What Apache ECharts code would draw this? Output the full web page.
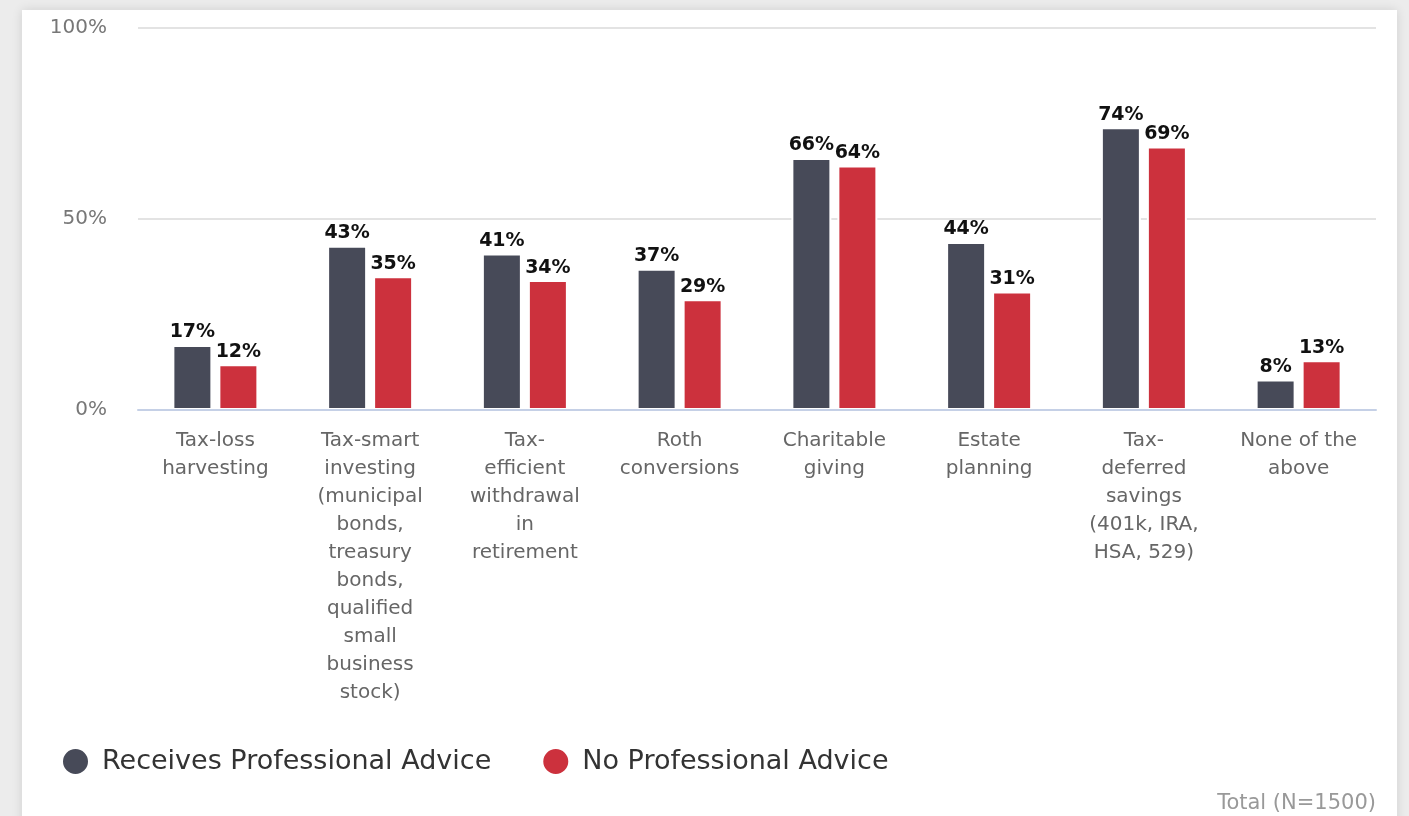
<!DOCTYPE html>
<html>
<head>
<meta charset="utf-8">
<script src="https://cdn.jsdelivr.net/npm/echarts@6/dist/echarts.min.js"></script>
<style>
  html, body { margin: 0; padding: 0; background: #ececec; width: 1409px; height: 816px; overflow: hidden; }
  #card { position: absolute; left: 22px; top: 10px; width: 1375px; height: 820px; background: #fff;
          box-shadow: 0 0 10px rgba(0,0,0,0.12); }
  #chart { width: 1375px; height: 806px; }
</style>
</head>
<body>
<div id="card"><div id="chart"></div></div>
<script>
// Tax strategies used, by whether the respondent receives professional advice
const categories = [
  "Tax-loss\nharvesting",
  "Tax-smart\ninvesting\n(municipal\nbonds,\ntreasury\nbonds,\nqualified\nsmall\nbusiness\nstock)",
  "Tax-\nefficient\nwithdrawal\nin\nretirement",
  "Roth\nconversions",
  "Charitable\ngiving",
  "Estate\nplanning",
  "Tax-\ndeferred\nsavings\n(401k, IRA,\nHSA, 529)",
  "None of the\nabove"
];
const withAdvice = [17, 43, 41, 37, 66, 44, 74, 8];
const withoutAdvice = [12, 35, 34, 29, 64, 31, 69, 13];
const seriesNames = ["Receives Professional Advice", "No Professional Advice"];
const yTicks = [0, 50, 100];
const footnote = "Total (N=1500)";

const FONT = "DejaVu Sans";
const chart = echarts.init(document.getElementById('chart'));

const valueLabel = {
  show: true,
  position: 'top',
  distance: 3,
  formatter: p => p.value + '%',
  color: '#111',
  fontFamily: FONT,
  fontWeight: 'bold',
  fontSize: 19
};

chart.setOption({
  animation: false,
  color: ['#474a58', '#cc313d'],
  grid: { left: 116, right: 21, top: 18, bottom: 406, containLabel: false },
  legend: {
    left: 34, top: 732,
    icon: 'circle',
    itemWidth: 27, itemHeight: 27,
    itemGap: 50,
    textStyle: { fontFamily: FONT, fontSize: 27, color: '#333', padding: [0, 0, 0, 8] },
    data: seriesNames
  },
  xAxis: {
    type: 'category',
    data: categories,
    z: 3,
    axisTick: { show: false },
    axisLine: { lineStyle: { color: '#c5d0e6', width: 2 } },
    axisLabel: {
      interval: 0, margin: 17,
      color: '#666', fontFamily: FONT, fontSize: 20, lineHeight: 28
    }
  },
  yAxis: {
    type: 'value',
    min: yTicks[0], max: yTicks[yTicks.length - 1], interval: yTicks[1] - yTicks[0],
    axisLine: { show: false },
    axisTick: { show: false },
    splitLine: { lineStyle: { color: '#e3e3e3', width: 2 } },
    axisLabel: {
      margin: 31, color: '#777', fontFamily: FONT, fontSize: 20,
      formatter: v => v + '%'
    }
  },
  series: [
    {
      name: seriesNames[0], type: 'bar', data: withAdvice,
      barWidth: 40, barGap: '15%',
      itemStyle: { borderColor: '#fff', borderWidth: 2 },
      label: valueLabel
    },
    {
      name: seriesNames[1], type: 'bar', data: withoutAdvice,
      barWidth: 40,
      itemStyle: { borderColor: '#fff', borderWidth: 2 },
      label: valueLabel
    }
  ],
  graphic: [{
    type: 'text', right: 21, top: 783,
    style: { text: footnote, fontFamily: FONT, fontSize: 21, fill: '#999' }
  }]
});
</script>
</body>
</html>
